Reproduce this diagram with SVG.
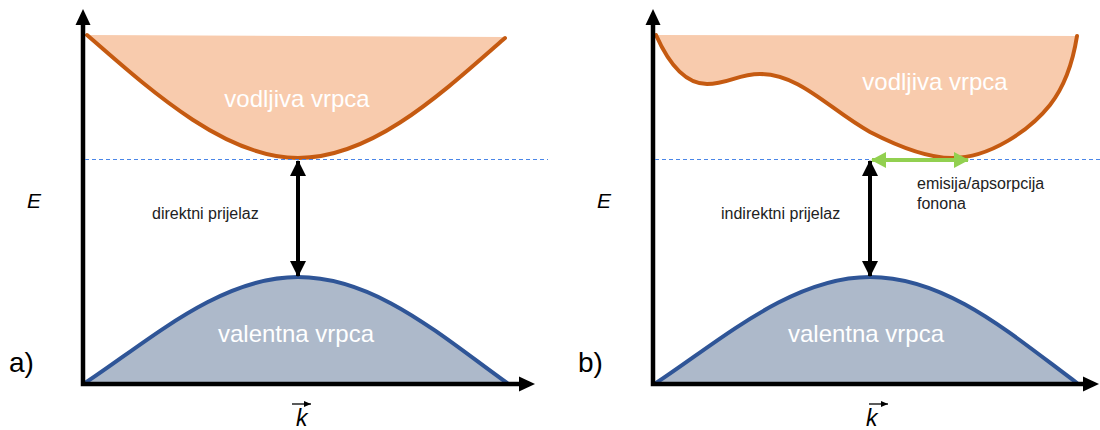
<svg xmlns="http://www.w3.org/2000/svg" width="1100" height="430" viewBox="0 0 1100 430">
  <defs>
    <style>
      .cb-fill { fill: #F8CBAD; stroke: none; }
      .cb-line { fill: none; stroke: #C55A11; stroke-width: 4; stroke-linecap: round; }
      .vb-fill { fill: #ADB9CA; stroke: none; }
      .vb-line { fill: none; stroke: #2F5597; stroke-width: 4; stroke-linecap: round; }
      .axis { fill: none; stroke: #000; stroke-width: 4.5; stroke-linejoin: miter; }
      .dash { stroke: #4A86E8; stroke-width: 1; stroke-dasharray: 4 3; fill: none; }
      .dbl { stroke: #000; stroke-width: 4; fill: none; }
      .green { stroke: #92D050; stroke-width: 4; fill: none; }
      .band { font-family: "Liberation Sans", Arial, sans-serif; font-size: 24px; fill: #fff; text-anchor: middle; }
      .lbl { font-family: "Liberation Sans", Arial, sans-serif; font-size: 16px; fill: #222; }
      .sym { font-family: "Liberation Sans", Arial, sans-serif; font-style: italic; fill: #000; }
      .panel { font-family: "Liberation Sans", Arial, sans-serif; font-size: 28px; fill: #000; }
    </style>
    <marker id="ahBlack" markerUnits="userSpaceOnUse" markerWidth="16" markerHeight="16" viewBox="0 0 16 16" refX="15" refY="8" orient="auto-start-reverse">
      <path d="M0,0 L16,8 L0,16 Z" fill="#000"/>
    </marker>
    <marker id="ahGreen" markerUnits="userSpaceOnUse" markerWidth="15" markerHeight="16" viewBox="0 0 15 16" refX="14" refY="8" orient="auto-start-reverse">
      <path d="M0,0 L15,8 L0,16 Z" fill="#92D050"/>
    </marker>
    <marker id="ahSmall" markerUnits="userSpaceOnUse" markerWidth="7" markerHeight="6" viewBox="0 0 7 6" refX="7" refY="3" orient="auto">
      <path d="M0,0 L7,3 L0,6 Z" fill="#000"/>
    </marker>
  </defs>

  <!-- Panel a -->
  <g id="panel-a">
    <g id="a-conduction">
      <path class="cb-fill" d="M87,35 C150,90 225,158 298,158 C372,158 440,95 505,38 L505,37 Z"/>
      <path class="cb-line" d="M87,35 C150,90 225,158 298,158 C372,158 440,95 505,38"/>
      <text class="band" x="297" y="107">vodljiva vrpca</text>
    </g>
    <g id="a-valence">
      <path class="vb-fill" d="M85,383 C150,340 220,277 298,277 C375,277 440,335 507,383 Z"/>
      <path class="vb-line" d="M85,383 C150,340 220,277 298,277 C375,277 440,335 507,383"/>
      <text class="band" x="296" y="342">valentna vrpca</text>
    </g>
    <g id="a-axes">
      <polyline class="axis" points="83,24 83,384 520,384"/>
      <path d="M75.5,25 L83,9 L90.5,25 Z" fill="#000"/>
      <path d="M519,376.5 L535,384 L519,391.5 Z" fill="#000"/>
      <text class="sym" x="27" y="208" font-size="21">E</text>
      <text class="sym" x="296" y="426" font-size="23">k</text>
      <line x1="292" y1="404" x2="311" y2="404" stroke="#000" stroke-width="1.3" marker-end="url(#ahSmall)"/>
      <text class="panel" x="9" y="372">a)</text>
    </g>
    <g id="a-label">
      <text class="lbl" x="152" y="219">direktni prijelaz</text>
    </g>
  </g>

  <!-- Panel b -->
  <g id="panel-b">
    <g id="b-conduction">
      <path class="cb-fill" d="M656,35 C668,62 685,84 707,84 C728,84 738,74 760,74 C800,74 830,110 870,132 C905,150 930,158 952,158 C990,158 1030,130 1050,105 C1068,82 1074,55 1077,36 Z"/>
      <path class="cb-line" d="M656,35 C668,62 685,84 707,84 C728,84 738,74 760,74 C800,74 830,110 870,132 C905,150 930,158 952,158 C990,158 1030,130 1050,105 C1068,82 1074,55 1077,36"/>
      <text class="band" x="935" y="90">vodljiva vrpca</text>
    </g>
    <g id="b-valence">
      <path class="vb-fill" d="M656,383 C721,340 792,277 870,277 C947,277 1012,335 1077,383 Z"/>
      <path class="vb-line" d="M656,383 C721,340 792,277 870,277 C947,277 1012,335 1077,383"/>
      <text class="band" x="866" y="342">valentna vrpca</text>
    </g>
    <g id="b-axes">
      <polyline class="axis" points="653,24 653,384 1084,384"/>
      <path d="M645.5,25 L653,9 L660.5,25 Z" fill="#000"/>
      <path d="M1083,376.5 L1099,384 L1083,391.5 Z" fill="#000"/>
      <text class="sym" x="597" y="208" font-size="21">E</text>
      <text class="sym" x="866" y="426" font-size="23">k</text>
      <line x1="869" y1="404" x2="888" y2="404" stroke="#000" stroke-width="1.3" marker-end="url(#ahSmall)"/>
      <text class="panel" x="578" y="372">b)</text>
    </g>
    <g id="b-labels">
      <text class="lbl" x="721" y="219">indirektni prijelaz</text>
      <text class="lbl" x="917" y="189">emisija/apsorpcija</text>
      <text class="lbl" x="917" y="209">fonona</text>
    </g>
  </g>

  <!-- Connectors -->
  <g id="connectors">
    <line class="dash" x1="85" y1="159.5" x2="548" y2="159.5"/>
    <line class="dash" x1="655" y1="159.5" x2="1100" y2="159.5"/>
    <line class="dbl" x1="298" y1="161" x2="298" y2="276" marker-start="url(#ahBlack)" marker-end="url(#ahBlack)"/>
    <line class="dbl" x1="870" y1="161" x2="870" y2="276" marker-start="url(#ahBlack)" marker-end="url(#ahBlack)"/>
    <line class="green" x1="872" y1="160" x2="968" y2="160" marker-start="url(#ahGreen)" marker-end="url(#ahGreen)"/>
  </g>
</svg>
